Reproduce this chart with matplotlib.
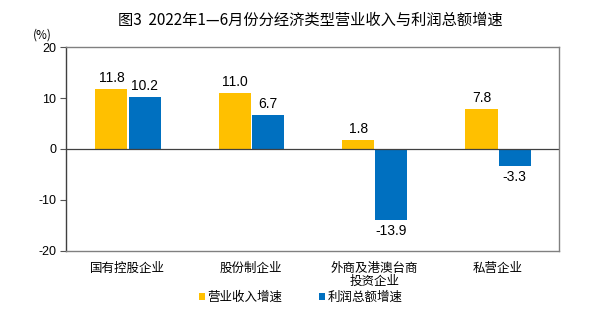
import matplotlib
matplotlib.use("Agg")
import matplotlib.pyplot as plt
import numpy as np

plt.rcParams['font.family'] = ['Noto Sans CJK SC', 'DejaVu Sans']

categories = ["国有控股企业", "股份制企业", "外商及港澳台商\n投资企业", "私营企业"]
revenue = [11.8, 11.0, 1.8, 7.8]
profit = [10.2, 6.7, -13.9, -3.3]
series_names = ["营业收入增速", "利润总额增速"]
yticks = [-20, -10, 0, 10, 20]

fig = plt.figure(figsize=(5.93, 3.32), dpi=100)
ax = fig.add_axes([0.111, 0.245, 0.832, 0.613])

x = np.arange(len(categories))
w = 0.26
c1, c2 = "#FFC000", "#0070C0"
b1 = ax.bar(x - w / 2, revenue, w, color=c1, label=series_names[0])
b2 = ax.bar(x + w / 2 + 0.01, profit, w, color=c2, label=series_names[1])

for bars, vals in ((b1, revenue), (b2, profit)):
    for r, v in zip(bars, vals):
        xc = r.get_x() + r.get_width() / 2
        if v >= 0:
            ax.text(xc, v + 0.8, f"{v:.1f}", ha="center", va="bottom", fontsize=10, family=['Liberation Sans'])
        else:
            ax.text(xc, v - 0.8, f"{v:.1f}", ha="center", va="top", fontsize=10, family=['Liberation Sans'])

ax.set_xlim(-0.5, 3.5)
ax.set_ylim(-20, 20)
ax.set_yticks(yticks)
ax.set_yticklabels([str(t) for t in yticks], fontsize=9, family=['Liberation Sans'])
ax.tick_params(axis='y', length=4, width=0.8, color="#555555", pad=3)
ax.set_xticks(x)
ax.set_xticklabels(categories, fontsize=9, linespacing=1.0)
ax.tick_params(axis='x', length=0, pad=8)
for s in ax.spines.values():
    s.set_color("#808080")
    s.set_linewidth(1.0)
ax.spines['left'].set_color("#404040")
ax.axhline(0, color="#404040", linewidth=0.9)

fig.text(0.523, 0.94, "图3  2022年1—6月份分经济类型营业收入与利润总额增速", ha="center", va="center", fontsize=11)
fig.text(0.072, 0.893, "(%)", ha="center", va="center", fontsize=8.5)

leg = fig.legend(handles=[b1, b2], labels=series_names, loc="center", bbox_to_anchor=(0.507, 0.105),
                 ncol=2, frameon=False, fontsize=9, handlelength=0.5, handleheight=0.5,
                 handletextpad=0.2, columnspacing=2.9)

fig.savefig("out.png", dpi=100)
